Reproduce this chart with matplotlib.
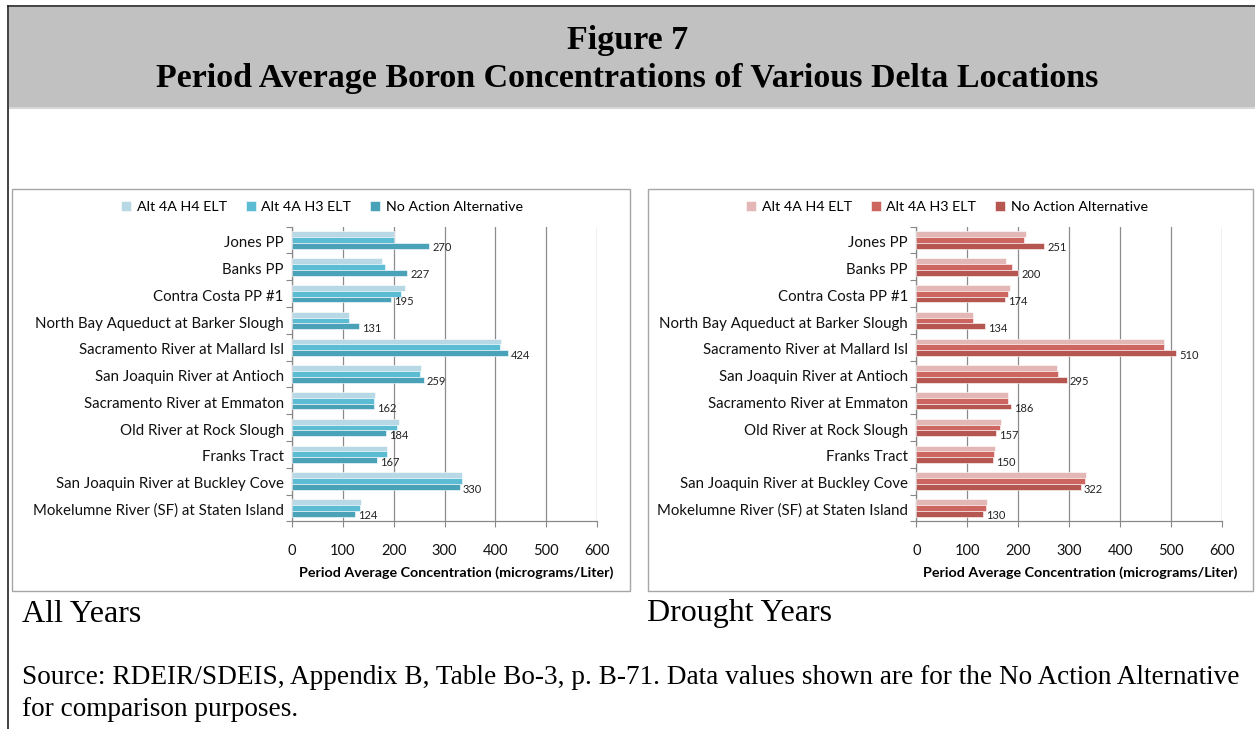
import matplotlib
matplotlib.use("Agg")
import matplotlib.pyplot as plt
import numpy as np
from matplotlib.patches import Rectangle
from matplotlib.lines import Line2D

W, H = 1255, 729
categories = ["Jones PP", "Banks PP", "Contra Costa PP #1",
              "North Bay Aqueduct at Barker Slough", "Sacramento River at Mallard Isl",
              "San Joaquin River at Antioch", "Sacramento River at Emmaton",
              "Old River at Rock Slough", "Franks Tract",
              "San Joaquin River at Buckley Cove", "Mokelumne River (SF) at Staten Island"]
series_names = ["Alt 4A H4 ELT", "Alt 4A H3 ELT", "No Action Alternative"]

all_h4 = [200, 178, 222, 112, 411, 253, 163, 211, 187, 334, 135]
all_h3 = [200, 182, 215, 112, 410, 252, 162, 206, 186, 334, 134]
all_naa = [270, 227, 195, 131, 424, 259, 162, 184, 167, 330, 124]

dr_h4 = [216, 176, 184, 112, 485, 276, 180, 167, 154, 333, 139]
dr_h3 = [211, 187, 180, 112, 486, 277, 179, 164, 153, 331, 137]
dr_naa = [251, 200, 174, 134, 510, 295, 186, 157, 150, 322, 130]

xticks = [0, 100, 200, 300, 400, 500, 600]
xlabel = "Period Average Concentration (micrograms/Liter)"

blue = ["#B7D8E4", "#5BBCD4", "#4AA2B8"]
red = ["#E2B7B5", "#CD6660", "#B55750"]

SANS = ["Lato", "DejaVu Sans"]
SERIF = ["Liberation Serif", "DejaVu Serif"]

fig = plt.figure(figsize=(W / 100, H / 100), dpi=100)

def fx(x):
    return x / W

def fy(y):
    return 1 - y / H

# background decorations
bg = fig.add_axes([0, 0, 1, 1], zorder=-10)
bg.set_xlim(0, W)
bg.set_ylim(H, 0)
bg.axis("off")
bg.add_patch(Rectangle((9, 7), W - 9, 100, facecolor="#C0C1C0", edgecolor="none"))
bg.add_line(Line2D([9, W], [107.5, 107.5], color="#D8D8D8", lw=1.5))
bg.add_line(Line2D([8, 8], [6, H], color="#222222", lw=1.2))
bg.add_line(Line2D([8, W], [6, 6], color="#222222", lw=1.2))
bg.add_patch(Rectangle((11.5, 188.5), 618, 402, facecolor="white", edgecolor="#A6A6A6", lw=1))
bg.add_patch(Rectangle((647.5, 188.5), 605, 402, facecolor="white", edgecolor="#A6A6A6", lw=1))

fig.text(0.5, fy(41), "Figure 7", ha="center", va="center", fontsize=24.5,
         fontweight="bold", family=SERIF)
fig.text(0.5, fy(78), "Period Average Boron Concentrations of Various Delta Locations",
         ha="center", va="center", fontsize=24.5, fontweight="bold", family=SERIF)
fig.text(fx(22), fy(614), "All Years", ha="left", va="center", fontsize=23, family=SERIF)
fig.text(fx(647), fy(614), "Drought Years", ha="left", va="center", fontsize=23, family=SERIF)
fig.text(fx(22), fy(678), "Source: RDEIR/SDEIS, Appendix B, Table Bo-3, p. B-71. Data values shown are for the No Action Alternative",
         ha="left", va="center", fontsize=19.6, family=SERIF)
fig.text(fx(22), fy(709), "for comparison purposes.", ha="left", va="center", fontsize=19.6, family=SERIF)


def draw(x0, x1, vals, colors, legend_cx, xlabel_cx):
    ytop, ybot = 226.7, 521.3
    ax = fig.add_axes([fx(x0), fy(ybot), fx(x1 - x0), (ybot - ytop) / H])
    n = len(categories)
    y = np.arange(n)
    bh = 0.215
    handles = []
    for i, (v, c) in enumerate(zip(vals, colors)):
        b = ax.barh(y + (i - 1) * bh, v, height=bh, color=c, edgecolor="white",
                    linewidth=0.4, zorder=3, label=series_names[i])
        handles.append(b)
    for yi, v in zip(y, vals[2]):
        ax.text(v + 6, yi + bh + 0.08, f"{v}", ha="left", va="center", fontsize=8,
                family=SANS, color="#222222", zorder=4)
    ax.set_xlim(0, 600)
    ax.set_ylim(n - 0.5, -0.5)
    ax.set_yticks(np.arange(-0.5, n, 1.0))
    ax.set_yticklabels([])
    ax.set_yticks(y + 0.06, minor=True)
    ax.set_yticklabels(categories, minor=True, fontsize=10.8, family=SANS, color="#111111")
    ax.tick_params(axis="y", which="minor", length=0, pad=6)
    ax.tick_params(axis="y", which="major", length=4, color="#888888", width=0.8)
    ax.set_xticks(xticks)
    ax.set_xticklabels([str(t) for t in xticks], fontsize=10.5, family=SANS, color="#111111")
    ax.tick_params(axis="x", length=4, color="#888888", width=0.8, pad=12)
    ax.grid(axis="x", color="#8C8C8C", lw=0.9, zorder=0)
    for s in ["top", "right"]:
        ax.spines[s].set_visible(False)
    for s in ["left", "bottom"]:
        ax.spines[s].set_color("#888888")
        ax.spines[s].set_linewidth(0.9)
    fig.text(fx(xlabel_cx), fy(573), xlabel, ha="center", va="center", fontsize=10.3,
             fontweight="bold", family=SANS)
    fig.legend(handles=handles, loc="center", bbox_to_anchor=(fx(legend_cx), fy(207)),
               ncol=3, frameon=False, prop={"family": SANS, "size": 10.3},
               handlelength=0.7, handleheight=0.7, handletextpad=0.4, columnspacing=1.3)
    return ax

draw(292, 597, [all_h4, all_h3, all_naa], blue, 322, 456)
draw(916.3, 1222.3, [dr_h4, dr_h3, dr_naa], red, 947, 1080)

fig.savefig("out.png", dpi=100)
